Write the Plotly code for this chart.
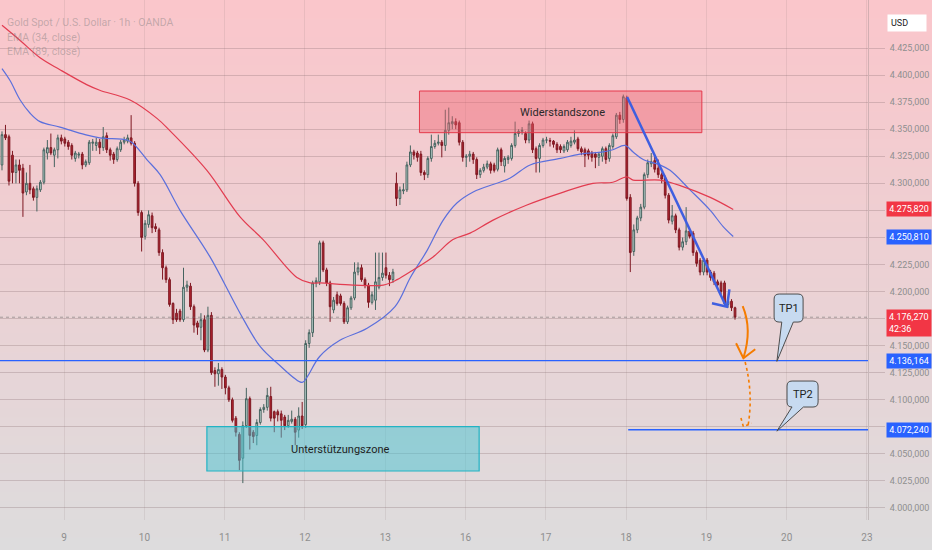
import plotly.graph_objects as go

# ---- data (XAUUSD 1h, OANDA) ----
day_labels = ["9", "10", "11", "12", "13", "16", "17", "18", "19", "20", "23"]
price_ticks = [4000, 4025, 4050, 4075, 4100, 4125, 4150, 4175, 4200, 4225,
               4250, 4275, 4300, 4325, 4350, 4375, 4400, 4425]

opens = [4317, 4345, 4343, 4326, 4310, 4317, 4314, 4292, 4300, 4295,
         4287, 4294, 4301, 4328, 4333, 4326, 4331, 4342, 4341, 4338,
         4335, 4323, 4326, 4327, 4317, 4319, 4337, 4335, 4338, 4333,
         4344, 4331, 4327, 4322, 4331, 4338, 4339, 4342, 4337, 4300,
         4273, 4251, 4262, 4270, 4260, 4257, 4236, 4222, 4211, 4189,
         4180, 4182, 4174, 4204, 4205, 4186, 4171, 4167, 4174, 4146,
         4178, 4127, 4124, 4128, 4121, 4111, 4100, 4083, 4068, 4046,
         4076, 4101, 4070, 4067, 4079, 4091, 4093, 4103, 4089, 4089,
         4087, 4084, 4076, 4080, 4082, 4072, 4085, 4077, 4152, 4162,
         4208, 4209, 4245, 4220, 4208, 4183, 4197, 4196, 4189, 4172,
         4185, 4194, 4218, 4222, 4211, 4206, 4190, 4192, 4204, 4213,
         4222, 4215, 4211, 4300, 4286, 4293, 4294, 4317, 4329, 4328,
         4327, 4310, 4308, 4323, 4334, 4337, 4338, 4335, 4349, 4355,
         4357, 4356, 4338, 4324, 4325, 4327, 4322, 4308, 4312, 4315,
         4318, 4317, 4313, 4331, 4316, 4322, 4323, 4335, 4346, 4348,
         4346, 4340, 4355, 4332, 4323, 4335, 4340, 4339.5, 4339, 4336,
         4334, 4330, 4331, 4335, 4338, 4341, 4332, 4331, 4330, 4328,
         4327, 4324, 4325, 4332, 4323, 4334, 4343, 4363, 4359, 4379,
         4287, 4237, 4257, 4268, 4278, 4308, 4318, 4321, 4314, 4308,
         4305, 4289, 4265, 4270, 4257, 4241, 4246, 4256, 4254, 4236,
         4229, 4218, 4229, 4218, 4217, 4209, 4208, 4208, 4188, 4191,
         4185]
highs = [4348, 4354, 4345, 4330, 4322, 4322, 4318, 4310, 4317, 4297,
         4298, 4303, 4333, 4340, 4346, 4333, 4345, 4345, 4343, 4340,
         4337, 4330, 4329, 4329, 4322, 4340, 4341, 4342, 4341, 4352,
         4347, 4333, 4329, 4334, 4340, 4343, 4345, 4363, 4339, 4302,
         4275, 4266, 4275, 4273, 4263, 4259, 4239, 4224, 4213, 4190,
         4184, 4184, 4222, 4210, 4208, 4188, 4173, 4180, 4178, 4186,
         4181, 4130, 4134, 4130, 4123, 4113, 4102, 4085, 4070, 4080,
         4111, 4103, 4072, 4082, 4093, 4096, 4111, 4112, 4090, 4091,
         4090, 4086, 4086, 4090, 4084, 4093, 4098, 4155, 4165, 4210,
         4213, 4247, 4247, 4222, 4210, 4195, 4200, 4198, 4191, 4187,
         4196, 4227, 4227, 4225, 4213, 4208, 4200, 4236, 4236, 4236,
         4236, 4218, 4221, 4310, 4297, 4300, 4320, 4335, 4331, 4330,
         4330, 4312, 4325, 4345, 4340, 4345, 4340, 4368, 4370, 4362,
         4360, 4358, 4340, 4327, 4330, 4329, 4324, 4314, 4318, 4321,
         4320, 4319, 4333, 4333, 4325, 4326, 4337, 4357, 4350, 4352,
         4348, 4358, 4357, 4334, 4337, 4342, 4343, 4342, 4340, 4338,
         4336, 4336, 4340, 4343, 4349, 4343, 4334, 4333, 4332, 4330,
         4329, 4329, 4334, 4334, 4337, 4346, 4365, 4366, 4382, 4381,
         4290, 4262, 4270, 4281, 4310, 4322, 4328, 4326, 4322, 4310,
         4307, 4291, 4280, 4272, 4259, 4250, 4278, 4258, 4256, 4238,
         4231, 4231, 4231, 4220, 4219, 4211, 4210, 4210, 4193, 4193,
         4186]
lows = [4312, 4340, 4298, 4300, 4300, 4300, 4269, 4289, 4290, 4284,
        4274, 4292, 4299, 4322, 4326, 4315, 4323, 4336, 4334, 4331,
        4322, 4320, 4323, 4313, 4315, 4317, 4330, 4330, 4327, 4330,
        4328, 4321, 4318, 4320, 4329, 4336, 4337, 4335, 4297, 4270,
        4237, 4248, 4259, 4254, 4255, 4233, 4211, 4208, 4186, 4170,
        4172, 4172, 4172, 4200, 4183, 4162, 4160, 4155, 4144, 4144,
        4123, 4112, 4113, 4110, 4105, 4098, 4079, 4066, 4035, 4023,
        4074, 4054, 4060, 4058, 4077, 4088, 4090, 4080, 4070, 4080,
        4065, 4072, 4074, 4078, 4058, 4065, 4073, 4074, 4148, 4158,
        4204, 4206, 4218, 4205, 4172, 4180, 4187, 4187, 4170, 4170,
        4183, 4192, 4215, 4209, 4203, 4185, 4188, 4183, 4202, 4210,
        4212, 4205, 4208, 4279, 4280, 4290, 4292, 4315, 4322, 4320,
        4307, 4303, 4305, 4320, 4332, 4335, 4324, 4330, 4345, 4350,
        4350, 4335, 4320, 4315, 4320, 4318, 4304, 4305, 4310, 4313,
        4309, 4310, 4311, 4316, 4310, 4318, 4321, 4333, 4343, 4345,
        4337, 4337, 4328, 4310, 4310, 4333, 4337, 4334, 4333, 4328,
        4328, 4328, 4329, 4333, 4336, 4330, 4326, 4315, 4322, 4320,
        4314, 4316, 4320, 4318, 4320, 4332, 4341, 4355, 4356, 4284,
        4218, 4233, 4254, 4265, 4276, 4305, 4315, 4310, 4305, 4300,
        4286, 4263, 4262, 4254, 4238, 4238, 4243, 4249, 4233, 4223,
        4215, 4215, 4215, 4210, 4206, 4203, 4197, 4186, 4185, 4182,
        4174]
closes = [4345, 4342, 4302, 4310, 4317, 4312, 4291, 4300, 4294, 4287,
          4295, 4301, 4331, 4333, 4328, 4331, 4342, 4339, 4337, 4334,
          4326, 4328, 4327, 4317, 4320, 4338, 4338, 4338, 4333, 4343,
          4331, 4326, 4322, 4332, 4338, 4340, 4342, 4337, 4300, 4273,
          4250, 4263, 4271, 4259, 4258, 4236, 4222, 4211, 4188, 4174,
          4174, 4174, 4204, 4206, 4186, 4169, 4167, 4174, 4146, 4178,
          4125, 4124, 4128, 4121, 4111, 4100, 4081, 4070, 4044, 4076,
          4101, 4067, 4066, 4079, 4091, 4093, 4104, 4083, 4083, 4086,
          4081, 4076, 4081, 4082, 4070, 4085, 4076, 4152, 4162, 4208,
          4210, 4245, 4220, 4208, 4186, 4192, 4189, 4189, 4172, 4185,
          4194, 4218, 4222, 4211, 4206, 4190, 4197, 4209, 4213, 4217,
          4215, 4211, 4218, 4286, 4294, 4294, 4317, 4329, 4326, 4324,
          4310, 4308, 4323, 4334, 4337, 4338, 4335, 4349, 4356, 4357,
          4354, 4338, 4324, 4325, 4327, 4322, 4308, 4312, 4315, 4318,
          4312, 4312, 4331, 4320, 4323, 4324, 4335, 4346, 4348, 4349,
          4340, 4355, 4331, 4323, 4335, 4340, 4340, 4339, 4336, 4331,
          4331, 4334, 4338, 4339, 4340, 4332, 4329, 4326, 4326, 4324,
          4324, 4327, 4332, 4322, 4335, 4344, 4363, 4359, 4380, 4286,
          4236, 4257, 4268, 4278, 4308, 4319, 4320, 4313, 4308, 4304,
          4289, 4266, 4270, 4257, 4241, 4246, 4256, 4251, 4236, 4226,
          4218, 4229, 4218, 4213, 4209, 4206, 4200, 4189, 4191, 4185,
          4176.27]

# EMA lines, sampled along the drawn curves (x = candle index)
ema34_x = [0, 2.3, 5.2, 8, 10.9, 16.6, 23.8, 28, 35.8, 37.5, 41.5, 45.3,
           51, 59.6, 68.2, 74, 78.8, 86, 87.4, 91, 96.8, 104.6, 112.6, 117,
           121.8, 126.4, 130.4, 135, 145.6, 151.3, 160, 165.6, 172.2, 175,
           178.5, 180.8, 183.7, 188.5, 191.4, 197.1, 202.9, 206.6, 209.5]
ema34_y = [4406, 4395, 4377, 4365, 4357, 4352, 4345, 4342, 4340, 4337,
           4322, 4308, 4275, 4232, 4180, 4149, 4134, 4116, 4121, 4140,
           4155, 4166, 4186, 4213, 4238, 4266, 4282, 4292, 4305, 4317,
           4323, 4327, 4329, 4331, 4335, 4329, 4322, 4317, 4312, 4294,
           4275, 4260, 4250.81]
ema89_x = [0, 5.2, 10.9, 16.6, 24.4, 28, 36.7, 44.4, 48, 58.7, 68.2, 74.8,
           84.5, 88.3, 91, 100.6, 109.2, 113.2, 117.8, 123.5, 129.2, 134.1,
           140.7, 150.4, 160, 169.3, 175, 179, 180.8, 188.5, 195.1, 202.9,
           209.5]
ema89_y = [4446, 4432, 4416, 4405, 4391, 4386, 4377, 4360, 4349, 4312,
           4269, 4248, 4213, 4208, 4208, 4206, 4206, 4211, 4220, 4232,
           4248, 4254, 4266, 4280, 4291, 4300, 4301, 4306, 4303, 4303,
           4297, 4287, 4275.82]

last_ema89 = 4275.820
last_ema34 = 4250.810
last_price = 4176.270
countdown = "42:36"
tp1_level = 4136.164
tp2_level = 4072.240

# ---- styling ----
FONT = "Roboto"
RED = "#f23645"
BLUE = "#2962ff"
GRID = "rgba(135,110,112,0.30)"
VGRID = "rgba(135,110,112,0.14)"
TICKC = "#8f8f8f"


def de(v):
    # German number format: 4.176,270
    s = f"{v:,.3f}"
    return s.replace(",", "X").replace(".", ",").replace("X", ".")


fig = go.Figure()

fig.add_trace(go.Candlestick(
    x=list(range(len(closes))), open=opens, high=highs, low=lows, close=closes,
    increasing=dict(line=dict(color="#45635f", width=1), fillcolor="#c7dcd7"),
    decreasing=dict(line=dict(color="#7e1822", width=1), fillcolor="#b3252f"),
    whiskerwidth=0, hoverinfo="skip", showlegend=False))

fig.add_trace(go.Scatter(x=ema34_x, y=ema34_y, mode="lines",
                         line=dict(color="#5b6fdc", width=1.2, shape="spline"),
                         hoverinfo="skip", showlegend=False))
fig.add_trace(go.Scatter(x=ema89_x, y=ema89_y, mode="lines",
                         line=dict(color="#e23c50", width=1.2, shape="spline"),
                         hoverinfo="skip", showlegend=False))

shapes = []

# background gradient (pink top -> grey bottom) across whole figure
nb = 60
top_c = (250, 198, 203)
bot_c = (221, 220, 221)
for i in range(nb):
    t = i / (nb - 1)
    c = tuple(round(top_c[j] + (bot_c[j] - top_c[j]) * t) for j in range(3))
    y1 = 1.0 - i * (1.07 / nb)
    shapes.append(dict(type="rect", xref="paper", yref="paper",
                       x0=0, x1=1.08, y0=y1 - 1.07 / nb - 0.002, y1=y1,
                       fillcolor=f"rgb{c}", line=dict(width=0), layer="below"))

# resistance / support zones
shapes.append(dict(type="rect", xref="x", yref="y", x0=119.6, x1=200.5,
                   y0=4346.8, y1=4385.3, fillcolor="rgba(238,96,110,0.42)",
                   line=dict(color="#e5394c", width=1), layer="above"))
shapes.append(dict(type="rect", xref="x", yref="y", x0=58.7, x1=136.7,
                   y0=4034.2, y1=4075.1, fillcolor="rgba(70,196,210,0.50)",
                   line=dict(color="#22b3c4", width=1.2), layer="above"))

# price lines
shapes.append(dict(type="line", xref="paper", yref="y", x0=0, x1=1,
                   y0=last_price, y1=last_price,
                   line=dict(color="rgba(110,110,110,0.55)", width=1, dash="dot")))
shapes.append(dict(type="line", xref="paper", yref="y", x0=0, x1=1,
                   y0=tp1_level, y1=tp1_level, line=dict(color=BLUE, width=1.4)))
shapes.append(dict(type="line", xref="x", yref="y", x0=179.4, x1=248.1,
                   y0=tp2_level, y1=tp2_level, line=dict(color=BLUE, width=1.4)))

# drawn trend line and check mark
shapes.append(dict(type="line", xref="x", yref="y", x0=179.1, y0=4379.7,
                   x1=207.4, y1=4186.6, line=dict(color="#3f5fe0", width=2.5)))
shapes.append(dict(type="path", xref="x", yref="y",
                   path="M 203.4,4189.1 L 207.7,4186.0 L 208.4,4202.0",
                   line=dict(color="#3f5fe0", width=2.5)))

# orange arrows towards TP1 / TP2
ORANGE = "#f57c00"
shapes.append(dict(type="path", xref="x", yref="y",
                   path="M 212.2,4186.6 Q 215.0,4165 212.4,4138.6",
                   line=dict(color=ORANGE, width=2)))
shapes.append(dict(type="path", xref="x", yref="y",
                   path="M 210.3,4152.2 L 212.4,4138.4 L 215.8,4146.7",
                   line=dict(color=ORANGE, width=2)))
shapes.append(dict(type="path", xref="x", yref="y",
                   path="M 212.9,4134.9 Q 215.3,4105 213.7,4075.5",
                   line=dict(color=ORANGE, width=1.6, dash="dot")))
shapes.append(dict(type="path", xref="x", yref="y",
                   path="M 211.7,4083.2 L 212.4,4075.1 L 214.8,4078.3",
                   line=dict(color=ORANGE, width=1.6, dash="dot")))


def callout(xa, xb, yb, yt, b1, b2, tipx, tipy):
    rx, ry = 1.45, 4.6
    return ("M {a},{t} L {b},{t} Q {xb},{yt} {xb},{t2} L {xb},{b3} "
            "Q {xb},{yb} {b},{yb} L {b2},{yb} L {tx},{ty} L {b1},{yb} "
            "L {a},{yb} Q {xa},{yb} {xa},{b3} L {xa},{t2} Q {xa},{yt} {a},{t} Z"
            ).format(a=xa + rx, b=xb - rx, t=yt, xb=xb, yt=yt, t2=yt - ry,
                     b3=yb + ry, yb=yb, b1=b1, b2=b2, tx=tipx, ty=tipy, xa=xa)


shapes.append(dict(type="path", xref="x", yref="y",
                   path=callout(221.2, 229.5, 4171.8, 4197.7, 223.4, 226.7, 222.0, 4135.5),
                   fillcolor="#c7daf0", line=dict(color="#4d4d4d", width=1)))
shapes.append(dict(type="path", xref="x", yref="y",
                   path=callout(224.9, 233.8, 4093.3, 4117.3, 226.3, 229.6, 222.0, 4071.0),
                   fillcolor="#c7daf0", line=dict(color="#4d4d4d", width=1)))

annotations = [
    dict(x=160.5, y=4365.9, xref="x", yref="y", text="Widerstandszone",
         showarrow=False, font=dict(family=FONT, size=11, color="#2a2a2a")),
    dict(x=96.8, y=4054.5, xref="x", yref="y", text="Unterstützungszone",
         showarrow=False, font=dict(family=FONT, size=11, color="#1e1e1e")),
    dict(x=225.35, y=4184.7, xref="x", yref="y", text="TP1", showarrow=False,
         font=dict(family=FONT, size=11, color="#222")),
    dict(x=229.35, y=4105.3, xref="x", yref="y", text="TP2", showarrow=False,
         font=dict(family=FONT, size=11, color="#222")),
    dict(x=0, y=1 - 14 / 520, xref="paper", yref="paper", xanchor="left",
         xshift=5, text="Gold Spot / U.S. Dollar · 1h · OANDA", showarrow=False,
         font=dict(family=FONT, size=10.5, color="rgba(120,120,120,0.42)")),
    dict(x=0, y=1 - 29 / 520, xref="paper", yref="paper", xanchor="left",
         xshift=5, text="EMA (34, close)", showarrow=False,
         font=dict(family=FONT, size=10.5, color="rgba(120,120,120,0.42)")),
    dict(x=0, y=1 - 43 / 520, xref="paper", yref="paper", xanchor="left",
         xshift=5, text="EMA (89, close)", showarrow=False,
         font=dict(family=FONT, size=10.5, color="rgba(120,120,120,0.42)")),
    dict(x=1, y=1 - 13.5 / 520, xref="paper", yref="paper", xanchor="left",
         xshift=19, text="USD", showarrow=False, width=32, align="left",
         bgcolor="white", borderpad=3,
         font=dict(family=FONT, size=9, color="#222")),
]

for val, bg in [(last_ema89, RED), (last_ema34, BLUE), (tp1_level, BLUE),
                (tp2_level, BLUE)]:
    annotations.append(dict(x=1, y=val, xref="paper", yref="y", xanchor="left",
                            xshift=18, text=de(val), showarrow=False,
                            bgcolor=bg, borderpad=2, width=40,
                            font=dict(family=FONT, size=9, color="white")))
annotations.append(dict(x=1, y=last_price, xref="paper", yref="y",
                        xanchor="left", yanchor="top", xshift=18, yshift=8,
                        text=de(last_price) + "<br>" + countdown, align="left",
                        showarrow=False, bgcolor=RED, borderpad=2, width=40,
                        font=dict(family=FONT, size=9, color="white")))

day_ticks = [17.8 + 23 * j for j in range(len(day_labels))]

fig.update_layout(
    width=932, height=550,
    margin=dict(l=0, r=64, t=0, b=30, autoexpand=False),
    paper_bgcolor="#dddcdd", plot_bgcolor="rgba(0,0,0,0)",
    separators=",.",
    shapes=shapes, annotations=annotations,
    showlegend=False,
    xaxis=dict(range=[-0.57, 248.1], tickvals=day_ticks, ticktext=day_labels,
               showgrid=True, gridcolor=VGRID, zeroline=False, ticks="",
               rangeslider=dict(visible=False), showline=False,
               tickfont=dict(family=FONT, size=10, color=TICKC),
               ticklabelstandoff=10, fixedrange=True),
    yaxis=dict(range=[3988.9, 4469.4], side="right", tickvals=price_ticks,
               tickformat=",.3f", showgrid=True, gridcolor=GRID,
               zeroline=False, ticks="outside", ticklen=16, tickcolor=GRID,
               showline=True, linecolor="rgba(140,130,130,0.35)",
               tickfont=dict(family=FONT, size=9, color=TICKC),
               ticklabelstandoff=3, fixedrange=True),
)

fig.write_html("out.html", config={"displayModeBar": False},
               post_script="document.body.style.margin='0';"
                           "document.body.style.overflow='hidden';")
